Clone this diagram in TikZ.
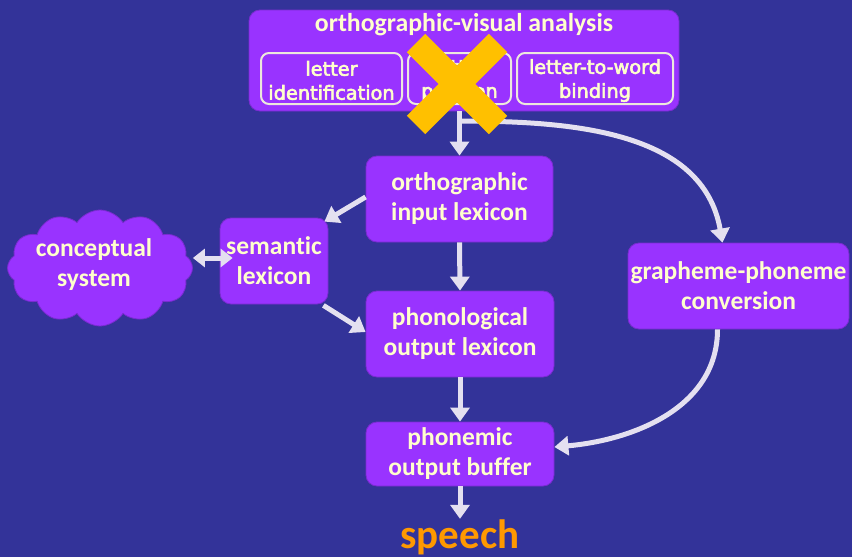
\documentclass[tikz,border=0pt]{standalone}
\usepackage{fontspec}
\setmainfont{Carlito}[Ligatures=NoCommon]
\newfontfamily\subfont{DejaVu Sans}[FakeBold=3]
\usetikzlibrary{arrows.meta,shapes.symbols}
\definecolor{bgblue}{HTML}{333399}
\definecolor{boxpurple}{HTML}{9933FF}
\definecolor{boxedge}{HTML}{7A2BD0}
\definecolor{txt}{HTML}{FFFFCC}
\definecolor{arrowc}{HTML}{E4E0F0}
\definecolor{crossc}{HTML}{FFC000}
\definecolor{speechc}{HTML}{FF9900}
\definecolor{subedge}{HTML}{EDE8DC}
\tikzset{
  module/.style={fill=boxpurple, draw=boxedge, line width=0.8pt, rounded corners=11pt,
    text=txt, font=\fontsize{25.5}{30}\selectfont\bfseries, align=center, inner sep=0pt},
  subbox/.style={draw=subedge, line width=2pt, rounded corners=8pt,
    text=txt, font=\subfont\fontsize{19.3}{24}\selectfont, align=center, inner sep=0pt},
  flow/.style={draw=arrowc, line width=5pt, -{Triangle[length=14pt,width=19pt]}},
  twoway/.style={draw=arrowc, line width=5pt, {Triangle[length=12pt,width=18pt]}-{Triangle[length=12pt,width=18pt]}},
}
\begin{document}
\begin{tikzpicture}[x=1pt,y=1pt]
  \fill[bgblue] (0,0) rectangle (852,-557);
  \useasboundingbox (0,0) rectangle (852,-557);

  % orthographic-visual analysis with its three components
  \node[module, minimum width=430pt, minimum height=101pt] (ova) at (464,-60.5) {};
  \node[text=txt, font=\fontsize{25.8}{30}\selectfont\bfseries] (ovatitle) at (464,-25) {orthographic-visual analysis};
  \node[subbox, minimum width=141pt, minimum height=51pt] (lid) at (331.5,-78.5) {};
  \node[subbox, minimum width=103pt, minimum height=51pt] (lpos) at (459.5,-78.5) {};
  \node[subbox, minimum width=156pt, minimum height=51pt] (lwb) at (595,-78.5) {};
  \node[subbox, draw=none] (lidtext) at (331.5,-80.5) {letter\\identification};
  \node[subbox, draw=none] (lpostext) at (459.5,-80.5) {letter\\position};
  \node[subbox, draw=none] (lwbtext) at (595,-80.5) {letter-to-word\\binding};

  % lexicons and buffers
  \node[module, minimum width=187pt, minimum height=86pt] (oil) at (459.5,-199) {orthographic\\input lexicon};
  \node[module, minimum width=108pt, minimum height=86pt] (sem) at (274,-261) {semantic\\lexicon};
  \node[module, minimum width=188pt, minimum height=86pt] (pol) at (460,-334) {phonological\\output lexicon};
  \node[module, minimum width=188pt, minimum height=64pt] (pob) at (460,-454) {phonemic\\output buffer};
  \node[module, minimum width=221pt, minimum height=86pt] (gpc) at (738.5,-286) {grapheme-phoneme\\conversion};
  \node[cloud, cloud puffs=12, cloud puff arc=115, aspect=1.6, fill=boxpurple, draw=boxedge,
        line width=0.8pt, minimum width=185pt, minimum height=116pt, inner sep=0pt] (con) at (100,-268) {};
  \node[text=txt, font=\fontsize{25.5}{30}\selectfont\bfseries, align=center] (context) at (94,-265) {conceptual\\system};
  \node[text=speechc, font=\fontsize{41}{46}\selectfont\bfseries] (speech) at (460,-537) {speech};

  % connectors
  \coordinate (split) at (459,-121);
  \draw[flow] (ova.south -| oil.north) -- (oil.north);
  \draw[flow] (split) to[out=0,in=100] ([xshift=-16pt]gpc.north);
  \draw[flow] ([yshift=2pt]oil.west) -- ([xshift=-4pt,yshift=-4pt]sem.north east);
  \draw[flow] (oil.south) -- (pol.north);
  \draw[flow] ([xshift=-5pt,yshift=-1pt]sem.south east) -- ([yshift=2pt]pol.west);
  \draw[twoway] ([yshift=10pt]con.east) -- ([xshift=13pt,yshift=3pt]sem.west);
  \draw[flow] (pol.south) -- (pob.north);
  \draw[flow] ([xshift=-21pt]gpc.south) to[out=-90,in=5] ([yshift=7pt]pob.east);
  \draw[flow] (pob.south) -- ([yshift=-3pt]speech.north);

  % the crossing-out mark over the middle component
  \draw[crossc, line width=26pt, line cap=butt] (416,-43) -- (498,-125);
  \draw[crossc, line width=26pt, line cap=butt] (498,-43) -- (416,-125);
\end{tikzpicture}
\end{document}
